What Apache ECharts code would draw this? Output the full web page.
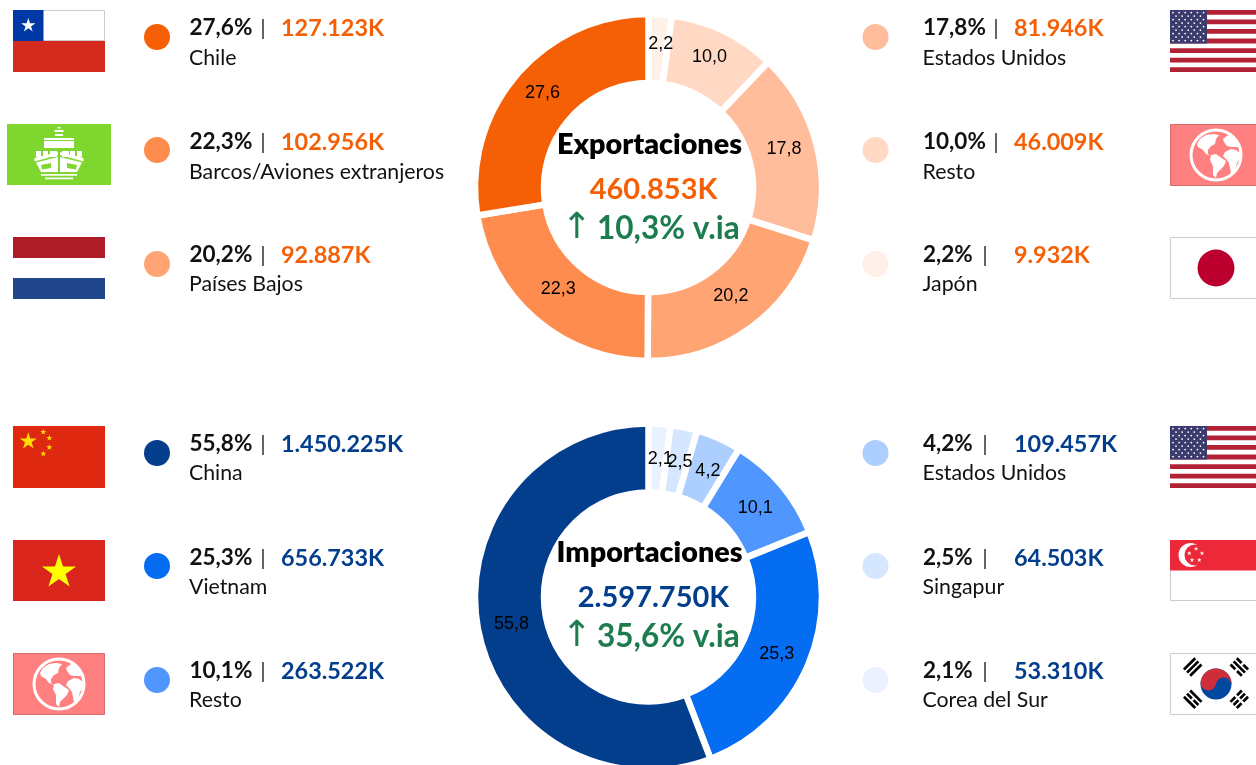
<!DOCTYPE html>
<html><head><meta charset="utf-8">
<style>html,body{margin:0;padding:0;background:#fff}#c{width:1256px;height:765px;overflow:hidden}</style>
<script src="https://cdn.jsdelivr.net/npm/echarts@6/dist/echarts.min.js"></script>
</head><body><div id="c"></div>
<script>
const expNames = ['Chile','Barcos/Aviones extranjeros','Países Bajos','Estados Unidos','Resto','Japón'];
const expValues = [127123,102956,92887,81946,46009,9932];
const expColors = ['#F55F05','#FF8C4F','#FFA574','#FFBD9B','#FFD9C3','#FFF0E8'];
const impNames = ['China','Vietnam','Resto','Estados Unidos','Singapur','Corea del Sur'];
const impValues = [1450225,656733,263522,109457,64503,53310];
const impColors = ['#033E8C','#056DF2','#4F97FF','#ADCFFF','#D5E6FF','#EAF2FF'];
const expTotal = '460.853K', impTotal = '2.597.750K';
const expGrowth = '10,3% v.ia', impGrowth = '35,6% v.ia';

const F = 'Lato, sans-serif';
const ORANGE = '#F55F05', BLUE = '#033E8C', GREEN = '#1C7C4D';
const g = [];
const rect = (x,y,w,h,fill,stroke) => g.push({type:'rect',shape:{x,y,width:w,height:h},style:{fill,stroke:stroke||null,lineWidth:stroke?1:0}});
const poly = (pts,fill) => g.push({type:'polygon',shape:{points:pts},style:{fill}});
const circ = (cx,cy,r,fill,stroke,lw) => g.push({type:'circle',shape:{cx,cy,r},style:{fill:fill||'none',stroke:stroke||null,lineWidth:lw||0}});
const txt = (x,y,text,font,fill,align) => g.push({type:'text',style:{x,y,text,font,fill,align:align||'left',verticalAlign:'middle'}});
function star(cx,cy,r,fill,rot){const p=[];for(let i=0;i<10;i++){const a=(rot||0)-Math.PI/2+i*Math.PI/5,q=i%2?r*0.382:r;p.push([cx+q*Math.cos(a),cy+q*Math.sin(a)]);}poly(p,fill);}
function bar(cx,cy,ang,len,th,fill){const c=Math.cos(ang),s=Math.sin(ang),l=len/2,t=th/2;poly([[cx-l*c-t*-s,cy-l*s-t*c],[cx+l*c-t*-s,cy+l*s-t*c],[cx+l*c+t*-s,cy+l*s+t*c],[cx-l*c+t*-s,cy-l*s+t*c]],fill);}

function flagChile(x,y){rect(x+.5,y+.5,91,30,'#fff','#ccc');rect(x,y+31,92,31,'#D52B1E');rect(x,y,30.5,31,'#0039A6');star(x+15.3,y+15.5,7.5,'#fff');}
function flagShip(x,y){rect(x,y,104,61,'#7ED62E');const w='#fff',c=x+52;
 rect(c-1.5,y+3,3,1.5,w);rect(c-4.5,y+6,9,2,w);rect(c-4,y+10,8,2,w);rect(c-15,y+14,30,2,w);rect(c-15,y+17,30,7,w);
 [[-23,5],[-16,5],[-9,7],[3,7],[11,5],[18,5]].forEach(a=>rect(c+a[0],y+27,a[1],6,w));
 [-1,1].forEach(d=>{
  poly([[c+d*24.5,y+34],[c+d*1,y+28],[c+d*1,y+31],[c+d*24.5,y+37.5]],w);
  poly([[c+d*23,y+38.5],[c+d*1,y+33],[c+d*1,y+48],[c+d*18,y+48]],w);
  poly([[c+d*18,y+41],[c+d*8,y+39],[c+d*8,y+44],[c+d*17,y+45.5]],'#7ED62E');
 });
 rect(c-18,y+50,36,1.8,w);rect(c-14,y+53.5,28,1.8,w);}
function flagNL(x,y){rect(x,y,92,21,'#AE1C28');rect(x,y+41,92,21,'#21468B');}
function flagUS(x,y){for(let i=0;i<13;i+=2)rect(x,y+i*62/13,92,62/13,'#B22234');rect(x,y,37,33.4,'#3C3B6E');
 for(let r=0;r<9;r++){const n=r%2?5:6;for(let k=0;k<n;k++)circ(x+(r%2?6:3)+k*6.1,y+2.6+r*3.5,.9,'#fff');}}
function flagWorld(x,y){rect(x+.5,y+.5,91,61,'#FF8080','#D96B6B');const cx=x+46,cy=y+31,w='#fff';circ(cx,cy,25,'none',w,3);
 const m=a=>a.map(p=>[cx+p[0],cy+p[1]]);
 poly(m([[-16,-16],[-10,-20],[-3,-21],[3,-20],[0,-16],[-1,-11],[-5,-9],[-8,-5],[-8,-1],[-5,1],[-10,-1],[-13,-5],[-18,-8],[-19,-11]]),w);
 poly(m([[-5,0],[0,-1],[4,2],[10,6],[8,11],[4,15],[1,18],[0,23],[-3,20],[-3,11],[-6,5]]),w);
 poly(m([[9,-3],[15,-6],[20,-5],[24,-2],[26,-2],[23,5],[21,8],[19,16],[15,18],[13,8],[10,4],[7,1]]),w);
 poly(m([[7,-16],[12,-20],[18,-18],[22,-12],[24,-8],[15,-8],[11,-9],[8,-13]]),w);}
function flagJP(x,y){rect(x+.5,y+.5,91,61,'#fff','#ccc');circ(x+46,y+31,18.5,'#BC002D');}
function flagCN(x,y){rect(x,y,92,62,'#DE2910');const s='#FFDE00';star(x+15.3,y+15.3,9,s);star(x+30.3,y+6,3.2,s);star(x+36.3,y+12,3.2,s);star(x+36.3,y+21.3,3.2,s);star(x+30.3,y+27.7,3.2,s);}
function flagVN(x,y){rect(x,y,92,61,'#DA251D');star(x+46,y+32,18,'#FFFF00');}
function flagSG(x,y){rect(x+.5,y+.5,91,60,'#fff','#ccc');rect(x,y,92,30.5,'#ED2939');circ(x+20.5,y+15,12,'#fff');circ(x+25,y+15,10.5,'#ED2939');
 [[26,8.7],[32,13.3],[29.3,20],[22,20],[19.3,13.3]].forEach(p=>star(x+p[0],y+p[1],2.4,'#fff'));}
function flagKR(x,y){rect(x+.5,y+.5,91,61,'#fff','#ccc');const cx=x+46,cy=y+31,r=15.5,t=10*Math.PI/180;
 circ(cx,cy,r,'#0047A0');
 const pts=[],N=24,ang0=Math.PI+t;
 for(let i=0;i<=N;i++){const a=ang0+i/N*Math.PI;pts.push([cx+r*Math.cos(a),cy+r*Math.sin(a)]);}
 const q=r/2,rc=[cx+q*Math.cos(t),cy+q*Math.sin(t)],lc=[cx-q*Math.cos(t),cy-q*Math.sin(t)];
 for(let i=1;i<=N;i++){const a=t-i/N*Math.PI;pts.push([rc[0]+q*Math.cos(a),rc[1]+q*Math.sin(a)]);}
 for(let i=1;i<=N;i++){const a=t+i/N*Math.PI;pts.push([lc[0]+q*Math.cos(a),lc[1]+q*Math.sin(a)]);}
 poly(pts,'#CD2E3A');
 const tri=(tx,ty,ang,pat)=>{const nx=-Math.sin(ang),ny=Math.cos(ang),c=Math.cos(ang),s=Math.sin(ang);
  [-1,0,1].forEach((i,n)=>{const px=tx+i*4.4*nx,py=ty+i*4.4*ny;
   if(pat[n])bar(px,py,ang,16,2.7,'#000');else{bar(px-4.6*c,py-4.6*s,ang,6.8,2.7,'#000');bar(px+4.6*c,py+4.6*s,ang,6.8,2.7,'#000');}});};
 const a=Math.PI/4;tri(x+22.7,y+14,-a,[1,1,1]);tri(x+69.3,y+14,a,[0,1,0]);tri(x+22.7,y+46.3,a,[1,0,1]);tri(x+69.3,y+46.3,-a,[0,0,0]);}

function legendRow(side,ys,dotY,name,value,pctVal,color,valColor){
 const left = side==='L', tx = left?189.5:923, dx = left?157:875.5, vx = left?281:1014;
 circ(dx,dotY,13,color);
 const wide = pctVal>=9.95;
 txt(tx,ys[0]+1,(pctVal.toFixed(1)).replace('.',',')+'%',`700 22.5px ${F}`,'#111');
 txt(left?(tx+(wide?73.5:62)):(tx+(wide?73:62)),ys[0]+1,'|',`400 22px ${F}`,'#333','center');
 txt(vx,ys[0]+1,value,`700 23.4px ${F}`,valColor);
 txt(tx-.5,ys[1]+1,name,`400 21.3px ${F}`,'#111');
}
const fmtK = v => { const s=String(v); return s.replace(/\B(?=(\d{3})+(?!\d))/g,'.')+'K'; };
const pct = (v,arr)=>v/arr.reduce((a,b)=>a+b,0)*100;

flagChile(13,10);flagShip(7,124);flagNL(13,237);
flagUS(1170,10);flagWorld(1170,124);flagJP(1170,237);
flagCN(13,426);flagVN(13,540);flagWorld(13,653);
flagUS(1170,426);flagSG(1170,540);flagKR(1170,653);

const rowsTop = [[27,57,37],[141,171,150],[254,283,264]];
const rowsBot = [[443,472,453],[557,586,566],[670,699,680]];
[0,1,2].forEach(i=>{
 legendRow('L',rowsTop[i],rowsTop[i][2],expNames[i],fmtK(expValues[i]),pct(expValues[i],expValues),expColors[i],ORANGE);
 legendRow('R',rowsTop[i],rowsTop[i][2],expNames[i+3],fmtK(expValues[i+3]),pct(expValues[i+3],expValues),expColors[i+3],ORANGE);
 legendRow('L',rowsBot[i],rowsBot[i][2],impNames[i],fmtK(impValues[i]),pct(impValues[i],impValues),impColors[i],BLUE);
 legendRow('R',rowsBot[i],rowsBot[i][2],impNames[i+3],fmtK(impValues[i+3]),pct(impValues[i+3],impValues),impColors[i+3],BLUE);
});

function center(cy,title,total,col,growth){
 txt(649.5,cy-43.5,title,`800 28.7px ${F}`,'#000','center');
 txt(653.5,cy+2,total,`700 29px ${F}`,col,'center');
 txt(576.5,cy+40.5,'↑',`400 36px "DejaVu Sans"`,GREEN,'center');
 txt(597,cy+41,growth,`700 31.5px ${F}`,GREEN,'left');
}
center(188,'Exportaciones',expTotal,ORANGE,expGrowth);
center(596,'Importaciones',impTotal,BLUE,impGrowth);

function pieSeries(names,values,colors,cy,baseDy){
 const total=values.reduce((a,b)=>a+b,0);
 const data=names.map((n,i)=>({name:n,value:values[i],itemStyle:{color:colors[i]}})).reverse();
 const ordered=values.slice().reverse();
 return {type:'pie',radius:[104.5,173.5],center:[648.5,cy],startAngle:90,clockwise:true,silent:true,animation:false,avoidLabelOverlap:false,
  itemStyle:{borderColor:'#fff',borderWidth:6.5},
  label:{position:'inside',color:'#000',fontFamily:'"Liberation Sans", Arial',fontSize:18,
   formatter:p=>(p.value/total*100).toFixed(1).replace('.',',')},
  labelLine:{show:false},
  labelLayout:function(p){
   let before=0;for(let i=0;i<p.dataIndex;i++)before+=ordered[i];
   const th=(before+ordered[p.dataIndex]/2)/total*2*Math.PI;
   return {dx:0.3-2.4*Math.sin(th)+(th<0.43?2.5:0),dy:baseDy+2.4*Math.cos(th),hideOverlap:false};
  },data};
}
const chart=echarts.init(document.getElementById('c'),null,{renderer:'canvas'});
chart.setOption({animation:false,backgroundColor:'#fff',
 series:[pieSeries(expNames,expValues,expColors,187.5,-4.5),pieSeries(impNames,impValues,impColors,597,1.5)],
 graphic:{elements:g.map(e=>Object.assign({silent:true,z:100},e))}});
</script></body></html>
